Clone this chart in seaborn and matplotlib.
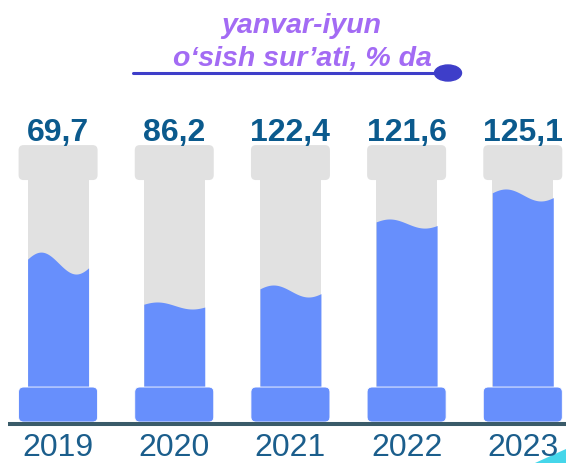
import numpy as np
import pandas as pd
import matplotlib
matplotlib.use("Agg")
import matplotlib.pyplot as plt
import seaborn as sns
from matplotlib.patches import FancyBboxPatch, Ellipse, Polygon
from matplotlib.lines import Line2D

# --- data -------------------------------------------------------------
years = ["2019", "2020", "2021", "2022", "2023"]
growth = [69.7, 86.2, 122.4, 121.6, 125.1]
value_labels = ["69,7", "86,2", "122,4", "121,6", "125,1"]
# liquid level inside each column, % of the shaft height
fill_level = [59.9, 39.4, 46.4, 79.0, 92.8]
title_lines = ["yanvar-iyun", "o‘sish sur’ati, % da"]

# --- style ------------------------------------------------------------
sns.set_theme(style="white")
plt.rcParams["font.family"] = ["Liberation Sans", "DejaVu Sans"]

GRAY = "#E1E1E1"
BLUE = "#678FFC"
LABEL = "#0B5A8D"
YEAR = "#1B5E8C"
AXIS = "#3A5B69"
PURPLE = "#A36BF4"
INDIGO = "#3E3EC9"
CYAN = "#45D6EA"

wave_amp = [5.3, 1.7, 2.9, 2.2, 2.9]   # height of the wavy surface
SHAFT_W = 0.525
CAP_W = 0.68
CAP_H = 16.9
SHAFT_H = 100

W, H = 566, 463
fig = plt.figure(figsize=(W / 100, H / 100), dpi=100)
ax = fig.add_axes([0, 0, 1, 1])

# empty column shafts
df = pd.DataFrame({"year": years, "shaft": [SHAFT_H] * len(years)})
sns.barplot(data=df, x="year", y="shaft", color=GRAY, width=SHAFT_W,
            saturation=1, linewidth=0, ax=ax, zorder=1)

XMIN, XMAX = -0.5, 4.372
YMIN, YMAX = -36.7, 187
ax.set_xlim(XMIN, XMAX)
ax.set_ylim(YMIN, YMAX)
ax.axis("off")

px_x = W / (XMAX - XMIN)
px_y = H / (YMAX - YMIN)
aspect = px_x / px_y
r = 5 / px_x

t = np.linspace(0, 1, 200)
for i, (lvl, amp) in enumerate(zip(fill_level, wave_amp)):
    # liquid with a wavy surface
    xs = i - SHAFT_W / 2 + SHAFT_W * t
    top = lvl + amp * np.sin(2 * np.pi * (t + 0.0675) / 1.15)
    ax.fill_between(xs, 0, top, color=BLUE, lw=0, zorder=2)

    # capital
    ax.add_patch(FancyBboxPatch((i - CAP_W / 2, SHAFT_H), CAP_W, CAP_H,
                                boxstyle=f"round,pad=0,rounding_size={r}",
                                mutation_aspect=aspect, fc=GRAY, ec="none",
                                zorder=3))
    # base
    ax.add_patch(FancyBboxPatch((i - CAP_W / 2, -CAP_H), CAP_W, CAP_H,
                                boxstyle=f"round,pad=0,rounding_size={r}",
                                mutation_aspect=aspect, fc=BLUE, ec="white",
                                lw=0.6, zorder=3))

    ax.text(i, 119.0, value_labels[i], ha="center", va="baseline",
            fontsize=23, fontweight="bold", color=LABEL, zorder=5)
    ax.text(i, -33.2, years[i], ha="center", va="baseline",
            fontsize=23, color=YEAR, zorder=6)

# ground line
ax.plot([(8 - 58) / px_x, XMAX], [-17.9, -17.9], color=AXIS, lw=2.9,
        solid_capstyle="butt", zorder=4)

# title block
fig.text(301 / W, 1 - 33 / H, title_lines[0], ha="center", va="baseline",
         fontsize=20.5, fontweight="bold", style="italic", color=PURPLE)
fig.text(302 / W, 1 - 65 / H, title_lines[1], ha="center", va="baseline",
         fontsize=20.5, fontweight="bold", style="italic", color=PURPLE)
fig.add_artist(Line2D([133 / W, 440 / W], [1 - 73 / H] * 2,
                      transform=fig.transFigure, color=INDIGO, lw=2.2))
fig.add_artist(Ellipse((448 / W, 1 - 73 / H), 27 / W, 16 / H,
                       transform=fig.transFigure, color=INDIGO))

# corner accent
fig.add_artist(Polygon([(535 / W, 0), (566 / W, 14 / H), (1, 0)],
                       closed=True, transform=fig.transFigure,
                       color=CYAN, lw=0, zorder=0))

fig.savefig("out.png", dpi=100)
